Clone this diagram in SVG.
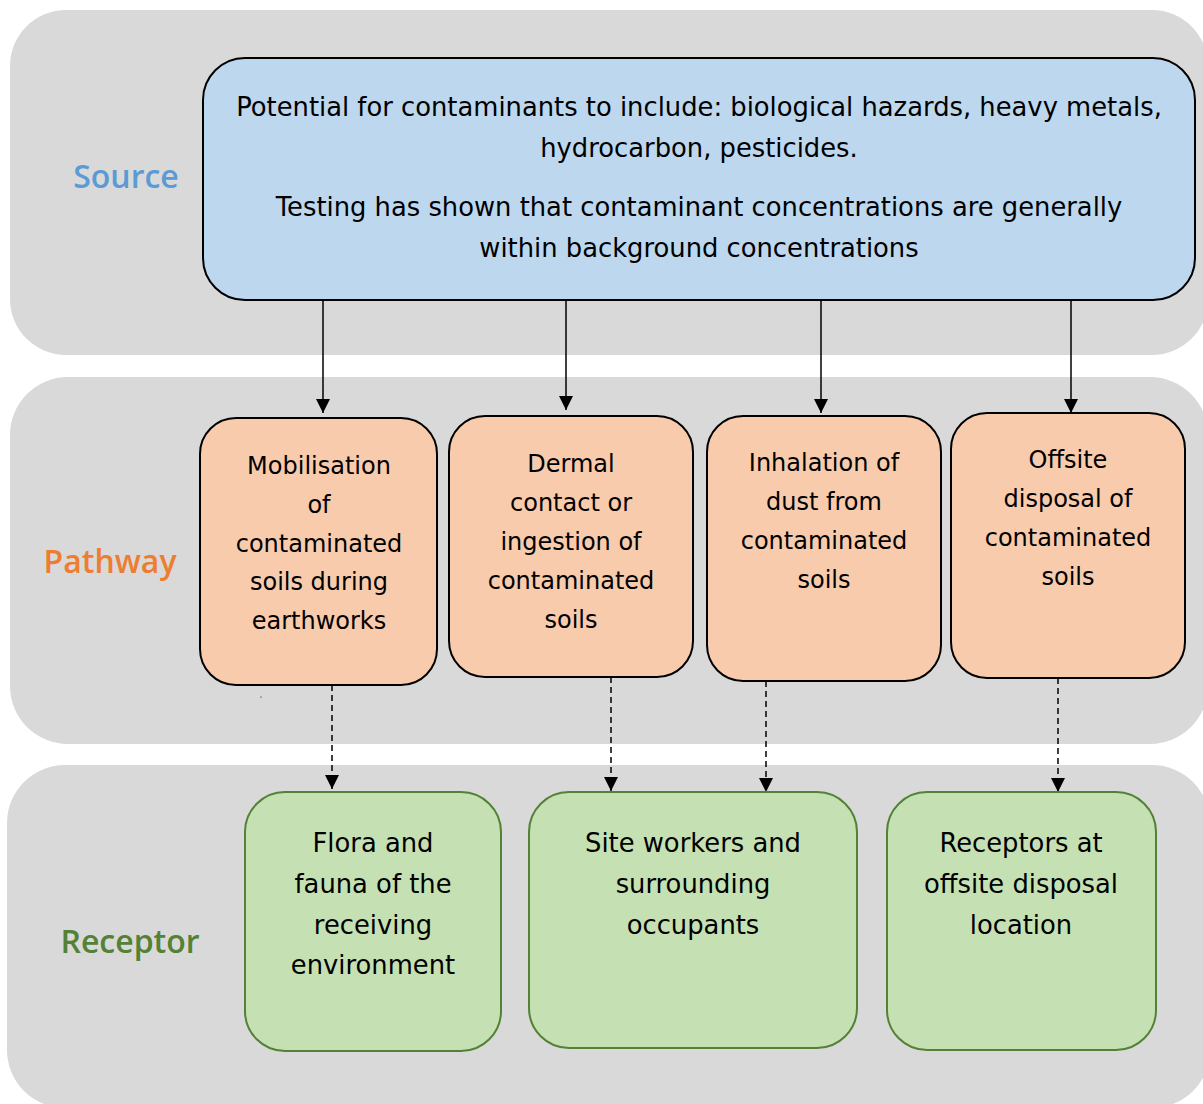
<svg xmlns="http://www.w3.org/2000/svg" width="1203" height="1104" viewBox="0 0 1203 1104">
<style>
.band{fill:#D9D9D9;}
.lbl{font-family:"Open Sans","Noto Sans",sans-serif;font-weight:600;font-size:32px;text-anchor:middle;}
.t{font-family:"DejaVu Sans","Noto Sans",sans-serif;font-size:24px;fill:#000;text-anchor:middle;}
.big{font-size:25.8px;}
.src{fill:#BDD7EE;stroke:#000;stroke-width:2;}
.pw{fill:#F8CBAD;stroke:#000;stroke-width:2;}
.rc{fill:#C5E0B3;stroke:#538135;stroke-width:2;}
.solid{stroke:#000;stroke-width:1.5;fill:none;}
.dash{stroke:#000;stroke-width:1.5;fill:none;stroke-dasharray:6 4;}
</style>
<defs>
<marker id="ah" viewBox="0 0 10 10" refX="10" refY="5" markerWidth="14" markerHeight="14" markerUnits="userSpaceOnUse" orient="auto">
<path d="M0,0 L10,5 L0,10 Z" fill="#000"/>
</marker>
</defs>
<rect width="1203" height="1104" fill="#fff"/>
<g id="bands">
<rect class="band" x="10" y="10" width="1198" height="345" rx="56"/>
<rect class="band" x="10" y="377" width="1198" height="367" rx="58"/>
<rect class="band" x="7" y="765" width="1203" height="343" rx="58"/>
</g>
<g id="labels">
<text class="lbl" x="126" y="188" fill="#5B9BD5">Source</text>
<text class="lbl" x="110" y="573" fill="#ED7D31">Pathway</text>
<text class="lbl" x="130" y="953" fill="#538135">Receptor</text>
</g>
<g id="connectors">
<line class="solid" x1="323" y1="300" x2="323" y2="413" marker-end="url(#ah)"/>
<line class="solid" x1="566" y1="300" x2="566" y2="410" marker-end="url(#ah)"/>
<line class="solid" x1="821" y1="300" x2="821" y2="413" marker-end="url(#ah)"/>
<line class="solid" x1="1071" y1="300" x2="1071" y2="413" marker-end="url(#ah)"/>
<line class="dash" x1="332" y1="685" x2="332" y2="789" marker-end="url(#ah)"/>
<line class="dash" x1="611" y1="677" x2="611" y2="791" marker-end="url(#ah)"/>
<line class="dash" x1="766" y1="681" x2="766" y2="792" marker-end="url(#ah)"/>
<line class="dash" x1="1058" y1="678" x2="1058" y2="792" marker-end="url(#ah)"/>
</g>
<circle cx="261" cy="697" r="0.6" fill="#000"/>
<g id="source">
<rect class="src" x="203" y="58" width="992" height="242" rx="42"/>
<text class="t big" x="699" y="116">Potential for contaminants to include: biological hazards, heavy metals,</text>
<text class="t big" x="699" y="157">hydrocarbon, pesticides.</text>
<text class="t big" x="699" y="216">Testing has shown that contaminant concentrations are generally</text>
<text class="t big" x="699" y="257">within background concentrations</text>
</g>
<g id="pathway1">
<rect class="pw" x="200" y="418" width="237" height="267" rx="36"/>
<text class="t" x="319" y="474">Mobilisation</text>
<text class="t" x="319" y="513">of</text>
<text class="t" x="319" y="552">contaminated</text>
<text class="t" x="319" y="590">soils during</text>
<text class="t" x="319" y="629">earthworks</text>
</g>
<g id="pathway2">
<rect class="pw" x="449" y="416" width="244" height="261" rx="36"/>
<text class="t" x="571" y="472">Dermal</text>
<text class="t" x="571" y="511">contact or</text>
<text class="t" x="571" y="550">ingestion of</text>
<text class="t" x="571" y="589">contaminated</text>
<text class="t" x="571" y="628">soils</text>
</g>
<g id="pathway3">
<rect class="pw" x="707" y="416" width="234" height="265" rx="36"/>
<text class="t" x="824" y="471">Inhalation of</text>
<text class="t" x="824" y="510">dust from</text>
<text class="t" x="824" y="549">contaminated</text>
<text class="t" x="824" y="588">soils</text>
</g>
<g id="pathway4">
<rect class="pw" x="951" y="413" width="234" height="265" rx="36"/>
<text class="t" x="1068" y="468">Offsite</text>
<text class="t" x="1068" y="507">disposal of</text>
<text class="t" x="1068" y="546">contaminated</text>
<text class="t" x="1068" y="585">soils</text>
</g>
<g id="receptor1">
<rect class="rc" x="245" y="792" width="256" height="259" rx="40"/>
<text class="t big" x="373" y="852">Flora and</text>
<text class="t big" x="373" y="893">fauna of the</text>
<text class="t big" x="373" y="934">receiving</text>
<text class="t big" x="373" y="974">environment</text>
</g>
<g id="receptor2">
<rect class="rc" x="529" y="792" width="328" height="256" rx="40"/>
<text class="t big" x="693" y="852">Site workers and</text>
<text class="t big" x="693" y="893">surrounding</text>
<text class="t big" x="693" y="934">occupants</text>
</g>
<g id="receptor3">
<rect class="rc" x="887" y="792" width="269" height="258" rx="40"/>
<text class="t big" x="1021" y="852">Receptors at</text>
<text class="t big" x="1021" y="893">offsite disposal</text>
<text class="t big" x="1021" y="934">location</text>
</g>
</svg>
